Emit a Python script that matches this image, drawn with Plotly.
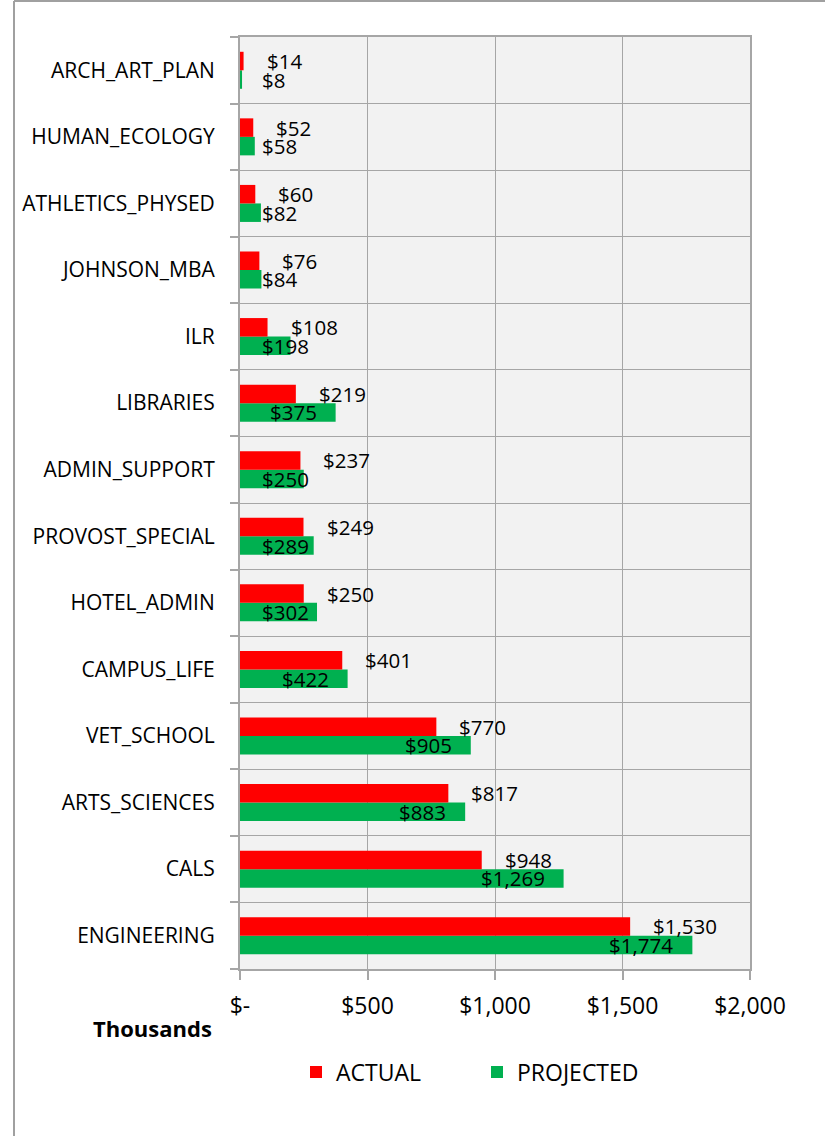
import plotly.graph_objects as go

# Categories listed top-to-bottom as they appear in the chart
categories = ["ARCH_ART_PLAN", "HUMAN_ECOLOGY", "ATHLETICS_PHYSED", "JOHNSON_MBA", "ILR",
              "LIBRARIES", "ADMIN_SUPPORT", "PROVOST_SPECIAL", "HOTEL_ADMIN", "CAMPUS_LIFE",
              "VET_SCHOOL", "ARTS_SCIENCES", "CALS", "ENGINEERING"]
actual = [14, 52, 60, 76, 108, 219, 237, 249, 250, 401, 770, 817, 948, 1530]
projected = [8, 58, 82, 84, 198, 375, 250, 289, 302, 422, 905, 883, 1269, 1774]

x_tickvals = [0, 500, 1000, 1500, 2000]
x_ticktext = ["$-", "$500", "$1,000", "$1,500", "$2,000"]

FONT = "Open Sans, sans-serif"
RED = "#FF0000"
GREEN = "#00B050"
GRID = "#A6A6A6"

# plot geometry (px)
L, R, T, B = 240, 75, 37, 167
W, H = 825, 1136
plot_w = W - L - R
plot_h = H - T - B
xmax = 2000
px_per_unit = plot_w / xmax
VAL_SIZE = 20.5

def fmt(v):
    return "${:,}".format(v)

fig = go.Figure()
fig.add_trace(go.Bar(y=categories, x=projected, orientation="h", name="PROJECTED",
                     marker=dict(color=GREEN, line=dict(width=0)), legendrank=2))
fig.add_trace(go.Bar(y=categories, x=actual, orientation="h", name="ACTUAL",
                     marker=dict(color=RED, line=dict(width=0)), legendrank=1))

band = plot_h / len(categories)
bargap = 0.444
bar_h = band * (1 - bargap) / 2
annotations = []
for c, a, p in zip(categories, actual, projected):
    annotations.append(dict(x=a, y=c, text=fmt(a), xref="x", yref="y", showarrow=False,
                            xanchor="left", xshift=21, yshift=bar_h / 2,
                            font=dict(family=FONT, size=VAL_SIZE, color="#000")))
    t = fmt(p)
    est_w = 0.572 * VAL_SIZE * len(t.replace(",", "")) + (0.26 * VAL_SIZE if "," in t else 0)
    end_px = p * px_per_unit
    if end_px - 17 - est_w >= 20:
        annotations.append(dict(x=p, y=c, text=t, xref="x", yref="y", showarrow=False,
                                xanchor="right", xshift=-17, yshift=-bar_h / 2,
                                font=dict(family=FONT, size=VAL_SIZE, color="#000")))
    else:
        annotations.append(dict(x=0, y=c, text=t, xref="x", yref="y", showarrow=False,
                                xanchor="left", xshift=20, yshift=-bar_h / 2,
                                font=dict(family=FONT, size=VAL_SIZE, color="#000")))

annotations.append(dict(x=(152 - L) / plot_w, y=(T + plot_h - 1028) / plot_h, xref="paper", yref="paper",
                        text="<b>Thousands</b>", showarrow=False, xanchor="center", yanchor="middle",
                        font=dict(family=FONT, size=22, color="#000")))

shapes = [
    dict(type="line", xref="paper", yref="paper", x0=(14 - L) / plot_w, x1=(14 - L) / plot_w,
         y0=(T + plot_h - 1) / plot_h, y1=(T + plot_h - H) / plot_h, line=dict(color="#A0A0A0", width=2)),
    dict(type="line", xref="paper", yref="paper", x0=(14 - L) / plot_w, x1=(W - L) / plot_w,
         y0=(T + plot_h - 1) / plot_h, y1=(T + plot_h - 1) / plot_h, line=dict(color="#A0A0A0", width=2)),
]

fig.update_layout(
    width=W, height=H,
    margin=dict(l=L, r=R, t=T, b=B, autoexpand=False),
    paper_bgcolor="white", plot_bgcolor="#F2F2F2",
    barmode="group", bargap=bargap, bargroupgap=0,
    font=dict(family=FONT, size=20, color="#000"),
    showlegend=True,
    legend=dict(orientation="h", x=(477 - L) / plot_w, xanchor="center",
                y=(T + plot_h - 1072) / plot_h, yanchor="middle",
                font=dict(family=FONT, size=23, color="#000"),
                entrywidth=136, bgcolor="rgba(0,0,0,0)"),
    annotations=annotations,
    shapes=shapes,
    xaxis=dict(range=[0, xmax], tickvals=x_tickvals, ticktext=x_ticktext,
               showgrid=True, gridcolor=GRID, gridwidth=1.3,
               showline=True, linecolor=GRID, linewidth=2, mirror=True,
               ticks="outside", ticklen=9, tickcolor=GRID, tickwidth=1.5,
               ticklabelstandoff=6,
               tickfont=dict(family=FONT, size=23, color="#000"), zeroline=False, fixedrange=True),
    yaxis=dict(type="category", categoryorder="array", categoryarray=categories[::-1],
               tickson="boundaries", showgrid=True, gridcolor=GRID, gridwidth=1.3,
               showline=True, linecolor=GRID, linewidth=2, mirror=True,
               ticks="outside", ticklen=8, tickcolor=GRID, tickwidth=1.5,
               ticklabelstandoff=19,
               tickfont=dict(family=FONT, size=21, color="#000"), fixedrange=True),
)

fig.write_html("out.html", config={"displayModeBar": False},
               post_script="document.body.style.margin='0';document.body.style.padding='0';")
